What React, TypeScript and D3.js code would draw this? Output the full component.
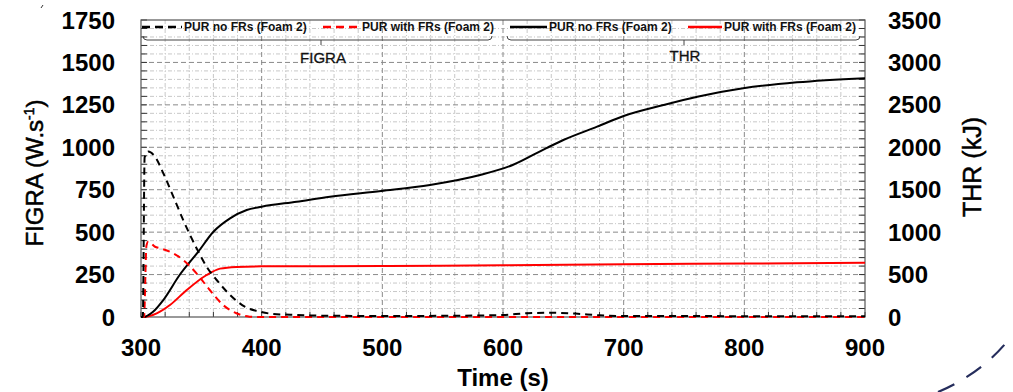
import React from "react";
import * as d3 from "d3";

// ---------- data ----------
const tFigraNoFR = [300, 301.5, 303, 306, 311.6, 318.5, 326.8, 335, 347.5, 354.4, 362.7, 373.8, 386, 398.6, 409.6, 429, 450, 500, 550, 600, 620, 640, 660, 680, 700, 800, 900];
const figraNoFR = [0, 0, 940, 975, 945, 847, 709, 571, 385, 296, 218, 130, 61, 31, 18, 12, 8, 6, 7, 12, 22, 25, 20, 10, 6, 5, 4];

const tFigraFR = [300, 302.5, 304.5, 306, 311.6, 315.7, 326.8, 335, 346, 357, 368, 379, 390, 400, 900];
const figraFR = [0, 0, 420, 444, 414, 405, 375, 336, 257, 159, 71, 22, 2, 0, 0];

const tThrNoFR = [300, 302, 310, 318.5, 332, 347.5, 360, 373.8, 387.6, 400, 429, 456.6, 499, 539.5, 581, 608, 636, 650, 678, 700, 733, 761, 799, 843.6, 900];
const thrNoFR = [0, 0, 62, 200, 495, 770, 1005, 1163, 1261, 1300, 1359, 1418, 1485, 1556, 1673, 1791, 1991, 2086, 2243, 2369, 2498, 2596, 2695, 2766, 2815];

const tThrFR = [300, 302, 313, 324, 337.9, 354.4, 365.5, 379, 400, 500, 600, 700, 800, 900];
const thrFR = [0, 0, 43, 141, 318, 495, 570, 590, 597, 600, 610, 621, 630, 640];

const xTicks = [300, 400, 500, 600, 700, 800, 900];
const yLeftTicks = [0, 250, 500, 750, 1000, 1250, 1500, 1750];
const yRightTicks = [0, 500, 1000, 1500, 2000, 2500, 3000, 3500];

const legendLabels = ["PUR no FRs (Foam 2)", "PUR with FRs (Foam 2)", "PUR no FRs (Foam 2)", "PUR with FRs (Foam 2)"];

// ---------- layout ----------
const W = 1013, H = 392;
const L = 141, R = 865, T = 20, B = 317;
const FONT = "'Liberation Sans', Arial, sans-serif";

export default function App() {
  const x = d3.scaleLinear().domain([300, 900]).range([L, R]);
  const yL = d3.scaleLinear().domain([0, 1750]).range([B, T]);
  const yR = d3.scaleLinear().domain([0, 3500]).range([B, T]);

  const mk = (ts: number[], vs: number[], ys: d3.ScaleLinear<number, number>) =>
    d3.line<number>().x((_, i) => x(ts[i])).y((v) => ys(v)).curve(d3.curveMonotoneX)(vs) || "";

  const minorX = d3.range(300, 901, 20).filter((v) => v % 100 !== 0);
  const majorX = d3.range(400, 900, 100);
  const minorY = d3.range(0, 1751, 50).filter((v) => v % 250 !== 0);
  const majorY = d3.range(250, 1750, 250);
  const tickX = d3.range(300, 901, 20);
  const tickYL = d3.range(0, 1751, 50);
  const tickYR = d3.range(0, 3501, 100);

  const legY = 27;
  const legend = [
    { x1: 142, x2: 182, tx: 184, color: "#000", dash: "8,5" },
    { x1: 323, x2: 360, tx: 362, color: "#ff0000", dash: "8,5" },
    { x1: 510, x2: 547, tx: 549, color: "#000", dash: "" },
    { x1: 688, x2: 722, tx: 724, color: "#ff0000", dash: "" },
  ];

  const brace = (x1: number, x2: number, xm: number, y: number) =>
    `M${x1},${y - 4} Q${x1},${y} ${x1 + 4},${y} L${x2 - 4},${y} Q${x2},${y} ${x2},${y - 4} M${xm},${y} L${xm},${y + 5}`;

  return (
    <svg width={W} height={H} style={{ position: "absolute", left: 0, top: 0, background: "#fff" }} fontFamily={FONT}>
      <rect x={0} y={0} width={W} height={H} fill="#fff" />
      {/* minor grid */}
      {minorX.map((v) => (
        <line key={"mx" + v} x1={x(v)} x2={x(v)} y1={T} y2={B} stroke="#c8c8c8" strokeWidth={1} strokeDasharray="4,2,1,2" />
      ))}
      {minorY.map((v) => (
        <line key={"my" + v} x1={L} x2={R} y1={yL(v)} y2={yL(v)} stroke="#c8c8c8" strokeWidth={1} strokeDasharray="4,2,1,2" />
      ))}
      {/* major grid */}
      {majorX.map((v) => (
        <line key={"Mx" + v} x1={x(v)} x2={x(v)} y1={T} y2={B} stroke="#8a8a8a" strokeWidth={1} strokeDasharray="5,3" />
      ))}
      {majorY.map((v) => (
        <line key={"My" + v} x1={L} x2={R} y1={yL(v)} y2={yL(v)} stroke="#8a8a8a" strokeWidth={1} strokeDasharray="5,3" />
      ))}
      {/* ticks */}
      {tickX.map((v) => (
        <line key={"tx" + v} x1={x(v)} x2={x(v)} y1={B} y2={B - 5} stroke="#333" strokeWidth={1} />
      ))}
      {tickYL.map((v) => (
        <line key={"tl" + v} x1={L} x2={L + 6} y1={yL(v)} y2={yL(v)} stroke="#333" strokeWidth={1} />
      ))}
      {tickYR.map((v) => (
        <line key={"tr" + v} x1={R} x2={R - 6} y1={yR(v)} y2={yR(v)} stroke="#333" strokeWidth={1} />
      ))}
      {/* frame */}
      <rect x={L} y={T} width={R - L} height={B - T} fill="none" stroke="#555" strokeWidth={1.2} />

      {/* series */}
      <path d={mk(tThrFR, thrFR, yR)} fill="none" stroke="#ff0000" strokeWidth={2} />
      <path d={mk(tThrNoFR, thrNoFR, yR)} fill="none" stroke="#000" strokeWidth={2} />
      <path d={mk(tFigraFR, figraFR, yL)} fill="none" stroke="#ff0000" strokeWidth={2} strokeDasharray="7,5" />
      <path d={mk(tFigraNoFR, figraNoFR, yL)} fill="none" stroke="#000" strokeWidth={2} strokeDasharray="7,5" />

      {/* legend */}
      {legend.map((e, i) => (
        <g key={"lg" + i}>
          <line x1={e.x1} x2={e.x2} y1={legY} y2={legY} stroke={e.color} strokeWidth={2.5} strokeDasharray={e.dash || undefined} />
          <text x={e.tx} y={legY + 4} fontSize={12} fontWeight="bold" fill="#111">{legendLabels[i]}</text>
        </g>
      ))}
      <path d={brace(143, 492, 321, 40)} fill="none" stroke="#444" strokeWidth={1} />
      <path d={brace(507, 860, 684, 40)} fill="none" stroke="#444" strokeWidth={1} />
      <text x={323} y={63} fontSize={15} textAnchor="middle" fill="#111" stroke="#111" strokeWidth={0.3}>FIGRA</text>
      <text x={685} y={61} fontSize={15} textAnchor="middle" fill="#111" stroke="#111" strokeWidth={0.3}>THR</text>

      {/* tick labels */}
      {yLeftTicks.map((v) => (
        <text key={"yl" + v} x={115} y={yL(v) + 8.5} fontSize={24} fontWeight="bold" textAnchor="end" fill="#000">{v}</text>
      ))}
      {yRightTicks.map((v) => (
        <text key={"yr" + v} x={888} y={yR(v) + 8.5} fontSize={24} fontWeight="bold" textAnchor="start" fill="#000">{v}</text>
      ))}
      {xTicks.map((v) => (
        <text key={"xt" + v} x={x(v)} y={356} fontSize={24} fontWeight="bold" textAnchor="middle" fill="#000">{v}</text>
      ))}

      {/* axis titles */}
      <text x={503} y={386} fontSize={24} fontWeight="bold" textAnchor="middle" fill="#000">Time (s)</text>
      <text transform="translate(43,173) rotate(-90)" fontSize={24} textAnchor="middle" fill="#000" stroke="#000" strokeWidth={0.5}>
        FIGRA (W.s<tspan dy={-9} fontSize={14}>-1</tspan><tspan dy={9}>)</tspan>
      </text>
      <text transform="translate(981,167) rotate(-90)" fontSize={25} textAnchor="middle" fill="#000" stroke="#000" strokeWidth={0.5}>THR (kJ)</text>

      {/* decorative artefacts */}
      <line x1={41} y1={8} x2={43} y2={5} stroke="#333" strokeWidth={1} />
      <path d="M938,392 Q985,372 1013,334" fill="none" stroke="#252d5c" strokeWidth={2.2} strokeDasharray="18,14" />
    </svg>
  );
}
